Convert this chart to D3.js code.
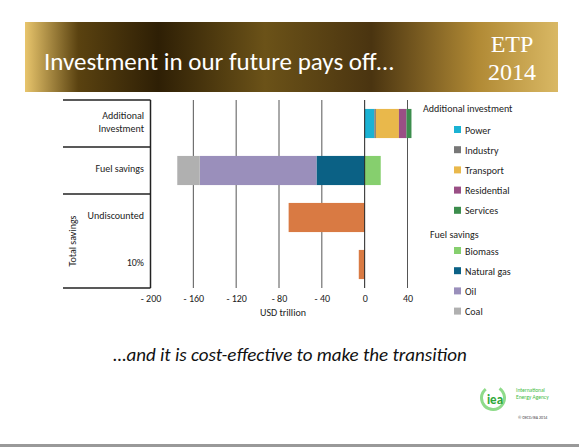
<!DOCTYPE html>
<html>
<head>
<meta charset="utf-8">
<script src="https://cdn.jsdelivr.net/npm/d3@7"></script>
<style>
  body { margin: 0; background: #fff; }
  text { font-family: Calibri, Carlito, "Open Sans", sans-serif; }
</style>
</head>
<body>
<div id="chart-area"></div>
<script>
// Data
let rows = ["Additional investment", "Fuel savings", "Undiscounted", "10%"];
let investNames = ["Power", "Industry", "Transport", "Residential", "Services"];
let investValues = [9, 1.5, 21.5, 7, 4.7];
let investColors = ["#1bb2d3", "#777777", "#e9b84b", "#9a4f85", "#3c8d4d"];
let fuelNames = ["Biomass", "Natural gas", "Oil", "Coal"];
let fuelValues = [15, -45, -109, -21];
let fuelColors = ["#86cf6e", "#0b6185", "#9a8fbb", "#b0b0b0"];
let totalValues = [-71, -5.5];
let totalColor = "#d97a43";
let xTicks = [-200, -160, -120, -80, -40, 0, 40];

let svg = d3.select("#chart-area")
    .append("svg")
    .attr("width", 579)
    .attr("height", 447);

// Banner
let grad = svg.append("defs").append("linearGradient").attr("id", "banner");
[["0%", "#e8c56c"], ["10%", "#5a4210"], ["25%", "#2e1f05"], ["45%", "#6b5218"],
 ["65%", "#4a3410"], ["85%", "#b18a35"], ["100%", "#d9b864"]].forEach(function (s) {
    grad.append("stop").attr("offset", s[0]).attr("stop-color", s[1]);
});
svg.append("rect").attr("x", 25).attr("y", 22).attr("width", 533).attr("height", 70)
    .attr("fill", "url(#banner)");
svg.append("text").attr("x", 44).attr("y", 70).attr("font-size", "25px")
    .attr("fill", "#fff").text("Investment in our future pays off…");
svg.append("text").attr("x", 512).attr("y", 52).attr("font-size", "24px")
    .attr("text-anchor", "middle").attr("fill", "#fff")
    .style("font-family", "'Liberation Serif', serif").text("ETP");
svg.append("text").attr("x", 512).attr("y", 80).attr("font-size", "24px")
    .attr("text-anchor", "middle").attr("fill", "#fff")
    .style("font-family", "'Liberation Serif', serif").text("2014");

// Scales
let x = d3.scaleLinear().domain([-200, 40]).range([150.5, 407.5]);
let y = d3.scaleBand().domain(rows).range([100, 288]).paddingInner(0.38).paddingOuter(0.19);

let g = svg.append("g");

// Gridlines
g.selectAll(".grid").data(xTicks.filter(function (d) { return d !== 0 && d !== -200; }))
    .enter().append("line")
    .attr("x1", function (d) { return x(d); }).attr("x2", function (d) { return x(d); })
    .attr("y1", 100).attr("y2", 288).attr("stroke", "#555").attr("stroke-width", 1);

// Stacked bars
function stack(values, colors, row) {
    let pos = 0, neg = 0;
    values.forEach(function (v, i) {
        let x0, x1;
        if (v >= 0) { x0 = pos; pos += v; x1 = pos; }
        else { x0 = neg + v; x1 = neg; neg += v; }
        g.append("rect")
            .attr("x", x(x0)).attr("width", x(x1) - x(x0))
            .attr("y", y(row)).attr("height", y.bandwidth())
            .attr("fill", colors[i]);
    });
}
stack(investValues, investColors, rows[0]);
stack(fuelValues, fuelColors, rows[1]);
totalValues.forEach(function (v, i) {
    g.append("rect")
        .attr("x", x(v)).attr("width", x(0) - x(v))
        .attr("y", y(rows[i + 2])).attr("height", y.bandwidth())
        .attr("fill", totalColor);
});

// Zero line and left axis
g.append("line").attr("x1", x(0)).attr("x2", x(0)).attr("y1", 100).attr("y2", 288)
    .attr("stroke", "#222");
g.append("line").attr("x1", x(-200)).attr("x2", x(-200)).attr("y1", 100).attr("y2", 288)
    .attr("stroke", "#222").attr("stroke-width", 1.5);
[100, 147, 194, 288].forEach(function (yy) {
    g.append("line").attr("x1", 63).attr("x2", x(-200)).attr("y1", yy).attr("y2", yy)
        .attr("stroke", "#222").attr("stroke-width", 1.5);
});

// X axis labels
let xAxis = d3.axisBottom(x).tickValues(xTicks).tickSize(0)
    .tickFormat(function (d) { return d < 0 ? "- " + (-d) : d; });
let ax = g.append("g").attr("transform", "translate(0,292)").call(xAxis);
ax.select(".domain").remove();
ax.selectAll("text").attr("font-size", "10px").attr("fill", "#222")
    .attr("font-family", "Calibri, Carlito, 'Open Sans', sans-serif");
g.append("text").attr("x", 283).attr("y", 316).attr("text-anchor", "middle")
    .attr("font-size", "10px").attr("fill", "#222").text("USD trillion");

// Row labels
let lab = [["Additional", 119], ["Investment", 132], ["Fuel savings", 172],
           ["Undiscounted", 219], ["10%", 266]];
lab.forEach(function (l) {
    g.append("text").attr("x", 144).attr("y", l[1]).attr("text-anchor", "end")
        .attr("font-size", "10px").attr("fill", "#222").text(l[0]);
});
g.append("text").attr("transform", "translate(76,241) rotate(-90)")
    .attr("text-anchor", "middle").attr("font-size", "10px").attr("fill", "#222")
    .text("Total savings");

// Legend
function legend(title, tx, ty, names, colors, y0) {
    svg.append("text").attr("x", tx).attr("y", ty).attr("font-size", "10px")
        .attr("fill", "#222").text(title);
    names.forEach(function (n, i) {
        let yy = y0 + i * 20.2;
        svg.append("rect").attr("x", 454).attr("y", yy - 4).attr("width", 7).attr("height", 7)
            .attr("fill", colors[i]);
        svg.append("text").attr("x", 465).attr("y", yy + 3.5).attr("font-size", "10px")
            .attr("fill", "#222").text(n);
    });
}
legend("Additional investment", 423, 112, investNames, investColors, 130);
legend("Fuel savings", 430, 238, fuelNames, fuelColors, 251);

// Subtitle
svg.append("text").attr("x", 290).attr("y", 361).attr("text-anchor", "middle")
    .attr("font-size", "19px").attr("font-style", "italic").attr("fill", "#111")
    .text("…and it is cost-effective to make the transition");

// IEA logo
svg.append("path")
    .attr("d", d3.arc().innerRadius(10).outerRadius(13).startAngle(0.6).endAngle(5.6)())
    .attr("transform", "translate(493,398)").attr("fill", "#8fdb8a");
svg.append("text").attr("x", 495).attr("y", 404).attr("text-anchor", "middle")
    .attr("font-size", "13px").attr("font-weight", "bold").attr("fill", "#2fa83a").text("iea");
svg.append("text").attr("x", 516).attr("y", 392).attr("font-size", "5.5px").attr("fill", "#44bb44")
    .text("International");
svg.append("text").attr("x", 516).attr("y", 399).attr("font-size", "5.5px").attr("fill", "#44bb44")
    .text("Energy Agency");
svg.append("text").attr("x", 518).attr("y", 419).attr("font-size", "4px").attr("fill", "#444")
    .text("© OECD/IEA 2014");

// Bottom line
svg.append("rect").attr("x", 0).attr("y", 444).attr("width", 579).attr("height", 3).attr("fill", "#999");
</script>
</body>
</html>
